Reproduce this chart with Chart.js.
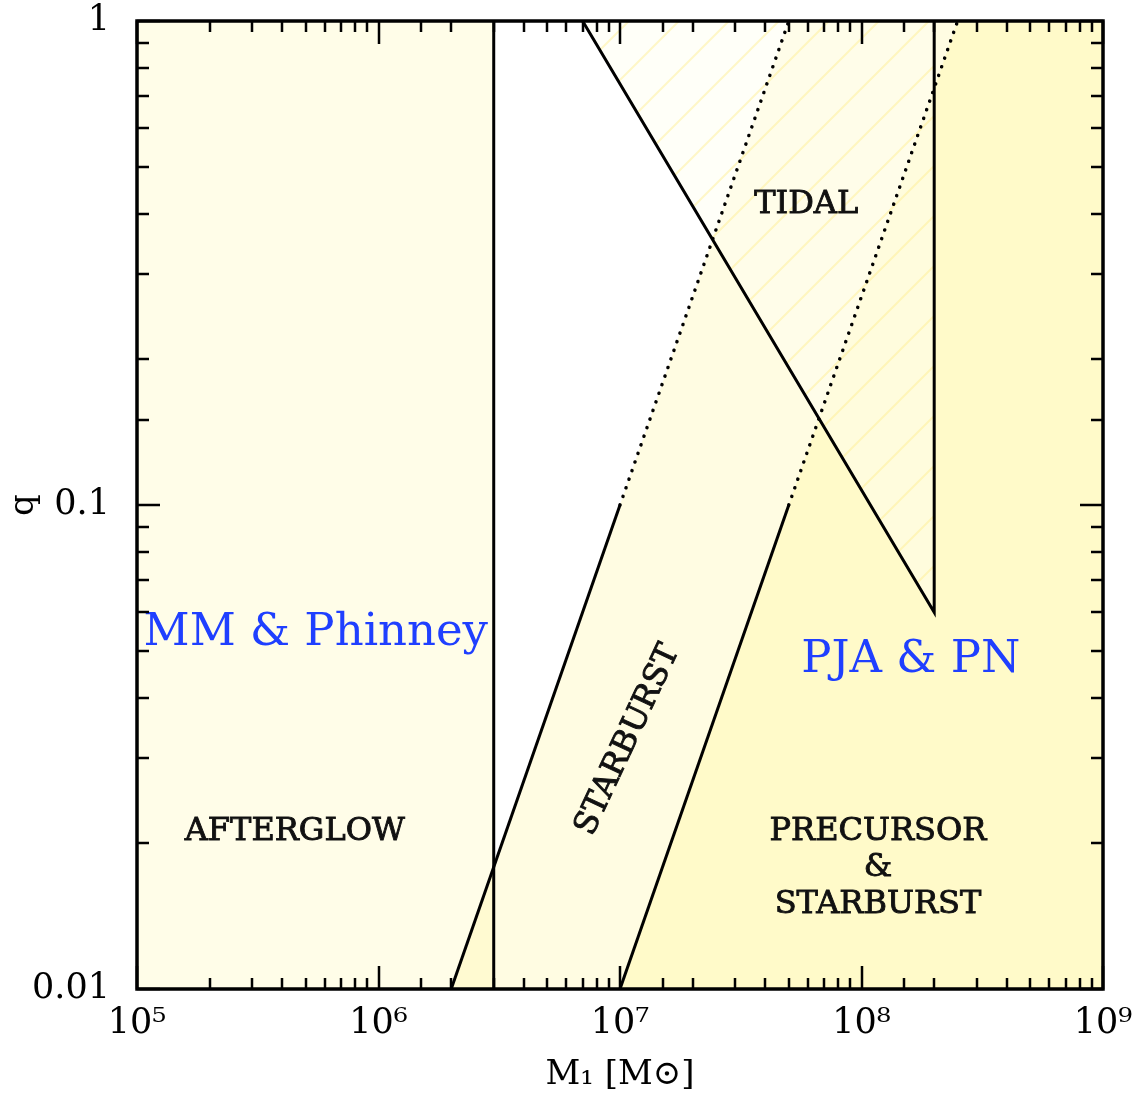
<!DOCTYPE html>
<html>
<head>
<meta charset="utf-8">
<script src="https://cdn.jsdelivr.net/npm/chart.js@4.4.0/dist/chart.umd.min.js"></script>
<style>
body { margin: 0; background: #fff; }
#wrap { width: 1140px; height: 1104px; }
</style>
</head>
<body>
<div id="wrap"><canvas id="regionChart"></canvas></div>
<script>
const CHART = document.getElementById('regionChart');

// region outlines: primary mass M1 [Msun] and mass ratio q
var afterglowM = [1e5, 3e6, 3e6, 1e5, 1e5];
var afterglowQ = [0.01, 0.01, 1, 1, 0.01];
var starburstM = [2e6, 1e7, 2.5e8, 5e7, 2e6];
var starburstQ = [0.01, 0.01, 1, 1, 0.01];
var precursorM = [1e7, 1e9, 1e9, 2.5e8, 1e7];
var precursorQ = [0.01, 0.01, 1, 1, 0.01];
var tidalM = [7e6, 2e8, 2e8, 7e6];
var tidalQ = [1, 0.06, 1, 1];

// boundary lines
var afterglowEdgeM = [3e6, 3e6];
var afterglowEdgeQ = [0.01, 1];
var tidalEdgeM = [7e6, 2e8, 2e8];
var tidalEdgeQ = [1, 0.06, 1];
var bandLeftM = [2e6, 1e7];
var bandLeftQ = [0.01, 0.1];
var bandLeftDotM = [1e7, 5e7];
var bandLeftDotQ = [0.1, 1];
var bandRightM = [1e7, 5e7];
var bandRightQ = [0.01, 0.1];
var bandRightDotM = [5e7, 2.5e8];
var bandRightDotQ = [0.1, 1];

// axis tick labels
var xTickValues = [1e5, 1e6, 1e7, 1e8, 1e9];
var xTickLabels = ['10\u2075', '10\u2076', '10\u2077', '10\u2078', '10\u2079'];
var yTickValues = [0.01, 0.1, 1];
var yTickLabels = ['0.01', '0.1', '1'];

// region names
var regionNames = ['AFTERGLOW', 'STARBURST', 'TIDAL', 'PRECURSOR', '&', 'STARBURST', 'MM & Phinney', 'PJA & PN'];
var regionNameM = [4.5e5, 1.08e7, 5.9e7, 1.17e8, 1.17e8, 1.17e8, 5.5e5, 1.6e8];
var regionNameQ = [0.0211, 0.0327, 0.417, 0.0211, 0.0178, 0.0149, 0.0544, 0.0477];

function pts(m, q) {
  return m.map(function(v, i) { return {x: v, y: q[i]}; });
}

function hatch() {
  var c = document.createElement('canvas');
  c.width = 50; c.height = 50;
  var g = c.getContext('2d');
  g.strokeStyle = 'rgba(255,238,140,0.45)';
  g.lineWidth = 2;
  g.beginPath();
  g.moveTo(-5, 55); g.lineTo(55, -5);
  g.moveTo(-10, 10); g.lineTo(10, -10);
  g.moveTo(40, 60); g.lineTo(60, 40);
  g.stroke();
  return g.createPattern(c, 'repeat');
}

function isMajor(v) {
  var l = Math.log10(v);
  return Math.abs(l - Math.round(l)) < 1e-6;
}

function area(m, q, color) {
  return { data: pts(m, q), showLine: true, fill: 'shape', backgroundColor: color,
           borderWidth: 0, pointRadius: 0 };
}
function edge(m, q, dotted) {
  return { data: pts(m, q), showLine: true, fill: false, borderColor: '#000',
           borderWidth: dotted ? 3.5 : 3, borderDash: dotted ? [0.1, 9] : [],
           borderCapStyle: dotted ? 'round' : 'butt', pointRadius: 0 };
}

function noPad(s) {
  s.paddingLeft = 0; s.paddingRight = 0; s.paddingTop = 0; s.paddingBottom = 0;
}

const frameTicks = {
  id: 'frameTicks',
  afterDraw: function(chart) {
    var ctx = chart.ctx, a = chart.chartArea;
    var xs = chart.scales.x, ys = chart.scales.y;
    ctx.save();
    ctx.strokeStyle = '#000';
    ctx.lineWidth = 2.5;
    ctx.beginPath();
    xs.ticks.forEach(function(t) {
      var px = Math.round(xs.getPixelForValue(t.value));
      var len = isMajor(t.value) ? 23 : 11;
      ctx.moveTo(px, a.bottom); ctx.lineTo(px, a.bottom - len);
      ctx.moveTo(px, a.top); ctx.lineTo(px, a.top + len);
    });
    ys.ticks.forEach(function(t) {
      var py = Math.round(ys.getPixelForValue(t.value));
      var len = isMajor(t.value) ? 23 : 12;
      ctx.moveTo(a.left, py); ctx.lineTo(a.left + len, py);
      ctx.moveTo(a.right, py); ctx.lineTo(a.right - len, py);
    });
    ctx.stroke();
    ctx.lineWidth = 3.5;
    ctx.strokeRect(a.left, a.top, a.right - a.left, a.bottom - a.top);
    ctx.restore();
  }
};

const regionText = {
  id: 'regionText',
  afterDatasetsDraw: function(chart) {
    var ctx = chart.ctx;
    var xs = chart.scales.x, ys = chart.scales.y;
    ctx.save();
    ctx.textAlign = 'center';
    ctx.textBaseline = 'middle';
    regionNames.forEach(function(txt, i) {
      var px = xs.getPixelForValue(regionNameM[i]);
      var py = ys.getPixelForValue(regionNameQ[i]);
      var blue = i >= 6;
      ctx.fillStyle = blue ? '#1f3fff' : '#111';
      ctx.strokeStyle = '#111';
      ctx.lineWidth = 0.9;
      ctx.font = blue ? '45px "DejaVu Serif"' : '32px "DejaVu Serif"';
      ctx.save();
      ctx.translate(px, py);
      if (i === 1) ctx.rotate(-65 * Math.PI / 180);
      ctx.fillText(txt, 0, 0);
      if (!blue) ctx.strokeText(txt, 0, 0);
      ctx.restore();
    });
    ctx.restore();
  }
};

var lineChart = new Chart(CHART, {
  type: 'scatter',
  data: {
    datasets: [
      edge(afterglowEdgeM, afterglowEdgeQ, false),
      edge(tidalEdgeM, tidalEdgeQ, false),
      edge(bandLeftM, bandLeftQ, false),
      edge(bandLeftDotM, bandLeftDotQ, true),
      edge(bandRightM, bandRightQ, false),
      edge(bandRightDotM, bandRightDotQ, true),
      area(tidalM, tidalQ, hatch()),
      area(tidalM, tidalQ, 'rgba(255,255,242,0.5)'),
      area(precursorM, precursorQ, 'rgba(255,242,120,0.4)'),
      area(starburstM, starburstQ, 'rgba(255,245,140,0.25)'),
      area(afterglowM, afterglowQ, 'rgba(255,245,140,0.2)')
    ]
  },
  options: {
    responsive: true,
    maintainAspectRatio: false,
    animation: false,
    layout: { padding: { left: 0, right: 37, top: 21, bottom: 0 } },
    plugins: {
      legend: { display: false },
      tooltip: { enabled: false },
      filler: { drawTime: 'beforeDatasetsDraw' }
    },
    scales: {
      x: {
        type: 'logarithmic', min: 1e5, max: 1e9,
        grid: { display: false, drawTicks: false },
        border: { display: false },
        ticks: {
          autoSkip: false, maxRotation: 0, padding: 14, color: '#000',
          font: { family: 'DejaVu Serif', size: 35 },
          callback: function(v) {
            var i = xTickValues.findIndex(function(t) { return Math.abs(t - v) / t < 1e-6; });
            return i >= 0 ? xTickLabels[i] : '';
          }
        },
        title: {
          display: true, text: 'M\u2081 [M\u2299]', color: '#000',
          font: { family: 'DejaVu Serif', size: 34 }, padding: { top: 0, bottom: 8 }
        },
        afterFit: function(s) { s.height = 115; noPad(s); }
      },
      y: {
        type: 'logarithmic', min: 0.01, max: 1,
        grid: { display: false, drawTicks: false },
        border: { display: false },
        ticks: {
          autoSkip: false, padding: 27, color: '#000',
          font: { family: 'DejaVu Serif', size: 35 },
          callback: function(v) {
            var i = yTickValues.findIndex(function(t) { return Math.abs(t - v) / t < 1e-6; });
            return i >= 0 ? yTickLabels[i] : '';
          }
        },
        title: {
          display: true, text: 'q', color: '#000',
          font: { family: 'DejaVu Serif', size: 34 }, padding: { top: 4, bottom: 4 }
        },
        afterFit: function(s) { s.width = 137; noPad(s); }
      }
    }
  },
  plugins: [frameTicks, regionText]
});
</script>
</body>
</html>
